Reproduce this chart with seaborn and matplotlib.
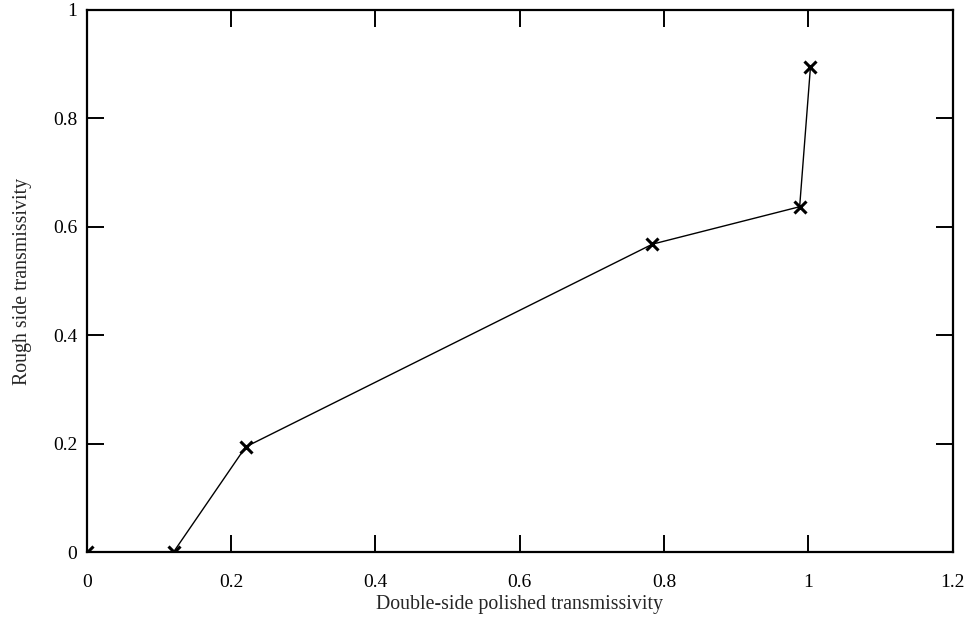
import matplotlib
matplotlib.use("Agg")
import matplotlib.pyplot as plt
import seaborn as sns
import pandas as pd

double_side = [0.0, 0.12, 0.22, 0.784, 0.988, 1.003]
rough_side = [0.0, 0.0, 0.194, 0.568, 0.637, 0.895]
x_ticks = [0, 0.2, 0.4, 0.6, 0.8, 1, 1.2]
x_tick_labels = ["0", "0.2", "0.4", "0.6", "0.8", "1", "1.2"]
y_ticks = [0, 0.2, 0.4, 0.6, 0.8, 1]
y_tick_labels = ["0", "0.2", "0.4", "0.6", "0.8", "1"]

sns.set_style("ticks")
plt.rcParams['font.family'] = ['Liberation Serif', 'DejaVu Serif']

df = pd.DataFrame({"x": double_side, "y": rough_side})

fig = plt.figure(figsize=(9.77, 6.21), dpi=100)
ax = fig.add_axes([0.089, 0.111, 0.886, 0.873])
sns.lineplot(data=df, x="x", y="y", ax=ax, color="black", linewidth=1.0,
             marker="x", markersize=9, markeredgewidth=2.2, markeredgecolor="black",
             sort=False)

ax.set_xlim(0, 1.2)
ax.set_ylim(0, 1)
ax.set_xticks(x_ticks)
ax.set_xticklabels(x_tick_labels)
ax.set_yticks(y_ticks)
ax.set_yticklabels(y_tick_labels)
ax.tick_params(direction="in", length=12, width=1.4, top=True, right=True,
               labelsize=14, colors="black")
ax.tick_params(axis="x", pad=16)
ax.tick_params(axis="y", pad=7)
for s in ax.spines.values():
    s.set_visible(True)
    s.set_linewidth(1.6)
    s.set_color("black")
ax.set_xlabel("Double-side polished transmissivity", fontsize=14.3, labelpad=3)
ax.set_ylabel("Rough side transmissivity", fontsize=14.3, labelpad=15)

fig.savefig("out.png", dpi=100)
